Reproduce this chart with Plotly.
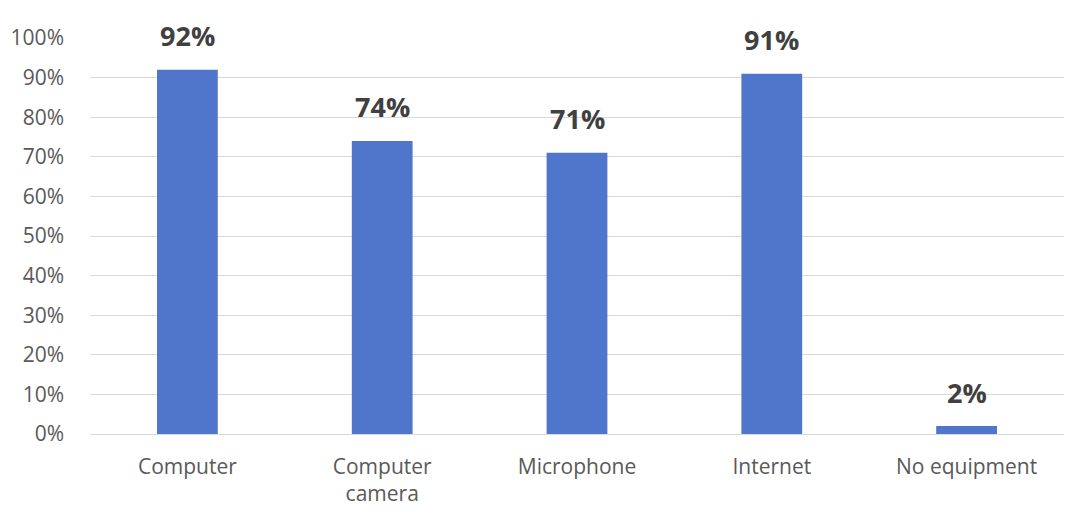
import plotly.graph_objects as go

# Share of respondents with each kind of equipment
categories = ["Computer", "Computer<br>camera", "Microphone", "Internet", "No equipment"]
shares = [92, 74, 71, 91, 2]
y_ticks = [0, 10, 20, 30, 40, 50, 60, 70, 80, 90, 100]
y_tick_labels = [f"{v}%" for v in y_ticks]

BAR_COLOR = "#4F76CA"
TICK_COLOR = "#595959"
LABEL_COLOR = "#404040"
GRID_COLOR = "#D9D9D9"
FONT = "Open Sans"

fig = go.Figure(
    go.Bar(
        x=categories,
        y=shares,
        marker=dict(color=BAR_COLOR, line=dict(width=0)),
        hovertemplate="%{x}: %{y}%<extra></extra>",
    )
)

# Value labels above each bar
for cat, val in zip(categories, shares):
    fig.add_annotation(
        x=cat,
        y=val,
        text=f"<b>{val}%</b>",
        showarrow=False,
        yanchor="middle",
        yshift=34,
        font=dict(family=FONT, size=27, color=LABEL_COLOR),
    )

fig.update_layout(
    width=1067,
    height=518,
    margin=dict(l=90, r=3, t=38, b=84),
    paper_bgcolor="white",
    plot_bgcolor="white",
    bargap=0.688,
    showlegend=False,
    font=dict(family=FONT, color=TICK_COLOR),
)

fig.update_xaxes(
    showgrid=False,
    showline=False,
    zeroline=False,
    tickfont=dict(family=FONT, size=21, color=TICK_COLOR),
    ticklabelstandoff=18,
)

fig.update_yaxes(
    range=[0, 100],
    tickvals=y_ticks,
    ticktext=y_tick_labels,
    showgrid=True,
    gridcolor=GRID_COLOR,
    gridwidth=1,
    zeroline=True,
    zerolinecolor=GRID_COLOR,
    zerolinewidth=1,
    showline=False,
    tickfont=dict(family=FONT, size=21, color=TICK_COLOR),
    ticklabelstandoff=25,
)

fig.write_html("out.html")
